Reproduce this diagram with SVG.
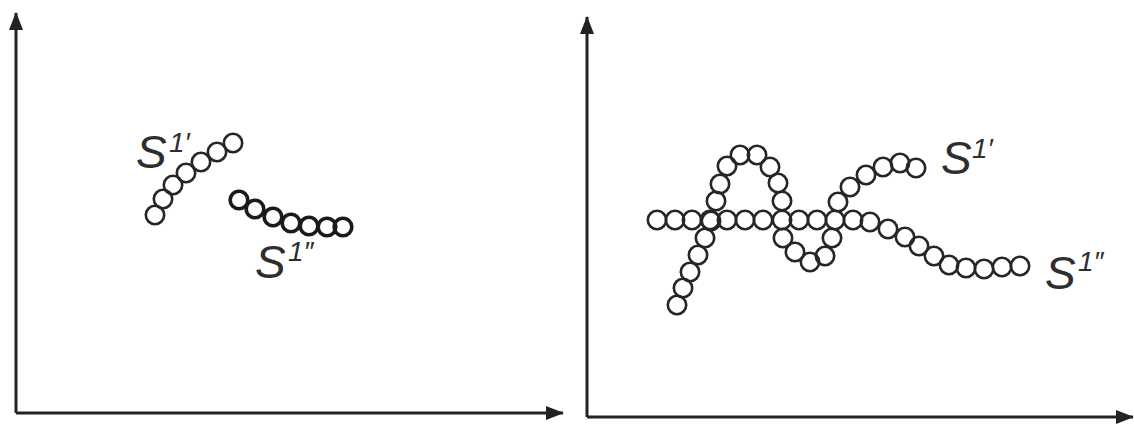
<svg xmlns="http://www.w3.org/2000/svg" width="1134" height="424" viewBox="0 0 1134 424">
<style>
.ax{stroke:#222;stroke-width:3;fill:none}
.b circle{fill:none;stroke:#262626;stroke-width:2.6}
.bk circle{fill:none;stroke:#1a1a1a;stroke-width:3.6}
.s{font-family:"Liberation Sans","DejaVu Sans",sans-serif;font-style:italic;fill:#2e2e2e;font-weight:normal}
.big{font-size:46px}
.sup{font-size:28px}
</style>
<defs>
<marker id="ah" markerUnits="userSpaceOnUse" markerWidth="18" markerHeight="14" refX="17" refY="7" orient="auto">
<path d="M0,0 L18,7 L0,14 Z" fill="#222"/>
</marker>
</defs>
<rect width="1134" height="424" fill="#fff"/>
<g id="connectors">
<path class="ax" d="M16,413 L16,13" marker-end="url(#ah)"/>
<path class="ax" d="M16,413 L563,413" marker-end="url(#ah)"/>
<path class="ax" d="M587,417 L587,17" marker-end="url(#ah)"/>
<path class="ax" d="M587,417 L1133,417" marker-end="url(#ah)"/>
</g>
<g id="left-s1p" class="b">
<circle cx="155" cy="215" r="9.2"/><circle cx="163" cy="199" r="9.2"/><circle cx="173" cy="185" r="9.2"/><circle cx="186" cy="173" r="9.2"/><circle cx="201" cy="162" r="9.2"/><circle cx="217" cy="152" r="9.2"/><circle cx="233" cy="143" r="9.2"/>
</g>
<g id="left-s1pp" class="bk">
<circle cx="239" cy="200" r="8.8"/><circle cx="255" cy="209" r="8.8"/><circle cx="273" cy="217" r="8.8"/><circle cx="291" cy="223" r="8.8"/><circle cx="309" cy="226" r="8.8"/><circle cx="327" cy="227" r="8.8"/><circle cx="343" cy="227" r="8.8"/>
</g>
<g id="left-labels">
<text class="s big" x="136" y="168">S</text><text class="s sup" x="169" y="152">1′</text>
<text class="s big" x="255" y="278">S</text><text class="s sup" x="288" y="261">1″</text>
</g>
<g id="right-s1pp" class="b">
<circle cx="657" cy="220" r="9.2"/><circle cx="675" cy="220" r="9.2"/><circle cx="692" cy="220" r="9.2"/><circle cx="710" cy="220" r="9.2"/><circle cx="727" cy="220" r="9.2"/><circle cx="745" cy="220" r="9.2"/><circle cx="763" cy="220" r="9.2"/><circle cx="782" cy="220" r="9.2"/><circle cx="799" cy="220" r="9.2"/><circle cx="817" cy="220" r="9.2"/><circle cx="835" cy="220" r="9.2"/><circle cx="853" cy="220" r="9.2"/><circle cx="870" cy="222" r="9.2"/><circle cx="888" cy="229" r="9.2"/><circle cx="905" cy="237" r="9.2"/><circle cx="919" cy="246" r="9.2"/><circle cx="934" cy="256" r="9.2"/><circle cx="949" cy="265" r="9.2"/><circle cx="966" cy="268" r="9.2"/><circle cx="984" cy="269" r="9.2"/><circle cx="1002" cy="267" r="9.2"/><circle cx="1020" cy="266" r="9.2"/>
</g>
<g id="right-s1p" class="b">
<circle cx="677" cy="305" r="9.2"/><circle cx="683" cy="288" r="9.2"/><circle cx="690" cy="272" r="9.2"/><circle cx="698" cy="255" r="9.2"/><circle cx="705" cy="238" r="9.2"/><circle cx="711" cy="221" r="9.2"/><circle cx="716" cy="201" r="9.2"/><circle cx="720" cy="184" r="9.2"/><circle cx="727" cy="166" r="9.2"/><circle cx="740" cy="155" r="9.2"/><circle cx="757" cy="155" r="9.2"/><circle cx="770" cy="167" r="9.2"/><circle cx="778" cy="183" r="9.2"/><circle cx="782" cy="201" r="9.2"/><circle cx="783" cy="238" r="9.2"/><circle cx="795" cy="252" r="9.2"/><circle cx="810" cy="262" r="9.2"/><circle cx="825" cy="256" r="9.2"/><circle cx="832" cy="238" r="9.2"/><circle cx="838" cy="202" r="9.2"/><circle cx="850" cy="187" r="9.2"/><circle cx="866" cy="175" r="9.2"/><circle cx="883" cy="167" r="9.2"/><circle cx="900" cy="163" r="9.2"/><circle cx="916" cy="168" r="9.2"/>
</g>
<g id="right-labels">
<text class="s big" x="941" y="174">S</text><text class="s sup" x="972" y="158">1′</text>
<text class="s big" x="1045" y="289">S</text><text class="s sup" x="1078" y="271">1″</text>
</g>
</svg>
